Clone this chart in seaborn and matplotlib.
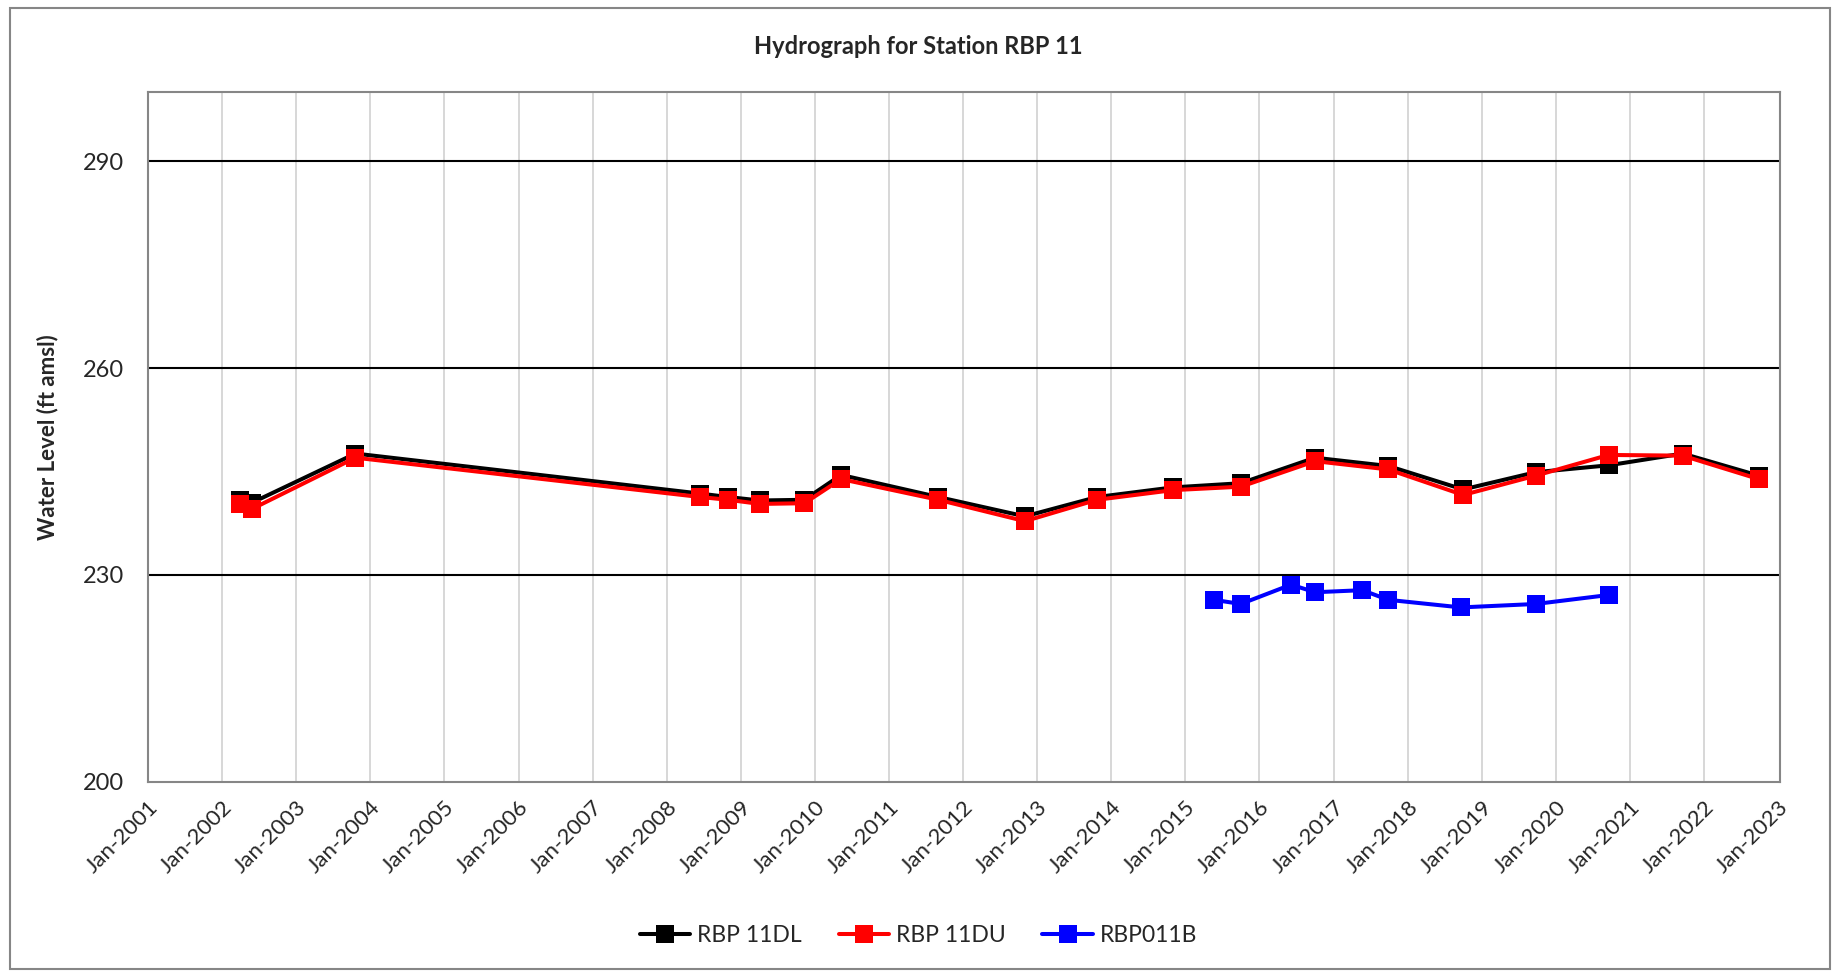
import pandas as pd
import numpy as np
import matplotlib
matplotlib.use("Agg")
import matplotlib.pyplot as plt
import matplotlib.dates as mdates
from matplotlib.patches import Rectangle
import seaborn as sns

dl_dates = ['2002-04-01', '2002-05-30', '2003-10-20', '2008-06-15', '2008-10-30',
            '2009-04-05', '2009-11-10', '2010-05-10', '2011-09-01', '2012-11-01',
            '2013-10-22', '2014-11-01', '2015-10-01', '2016-10-01', '2017-09-27',
            '2018-10-01', '2019-09-24', '2020-09-17', '2021-09-17', '2022-09-27']
dl_levels = [240.8, 240.5, 247.6, 241.8, 241.3, 240.8, 240.9, 244.5, 241.3, 238.5,
             241.3, 242.7, 243.3, 247.0, 245.8, 242.4, 244.9, 245.9, 247.6, 244.4]

du_dates = dl_dates
du_levels = [240.3, 239.6, 247.0, 241.3, 240.9, 240.3, 240.4, 243.9, 240.9, 237.8,
             240.9, 242.3, 242.8, 246.5, 245.3, 241.6, 244.4, 247.4, 247.3, 243.9]

b_dates = ['2015-05-22', '2015-10-01', '2016-06-05', '2016-10-01', '2017-05-22',
           '2017-09-27', '2018-09-20', '2019-09-24', '2020-09-17']
b_levels = [226.4, 225.8, 228.6, 227.5, 227.8, 226.4, 225.3, 225.8, 227.1]

series_names = ['RBP 11DL', 'RBP 11DU', 'RBP011B']
colors = ['#000000', '#ff0000', '#0000ff']

df = pd.concat([
    pd.DataFrame({'date': pd.to_datetime(dl_dates), 'level': dl_levels, 'series': series_names[0]}),
    pd.DataFrame({'date': pd.to_datetime(du_dates), 'level': du_levels, 'series': series_names[1]}),
    pd.DataFrame({'date': pd.to_datetime(b_dates), 'level': b_levels, 'series': series_names[2]}),
])

sns.set_style("white")
plt.rcParams['font.family'] = ['Lato', 'DejaVu Sans']

fig = plt.figure(figsize=(18.37, 9.72), dpi=100)
ax = fig.add_axes([0.0806, 0.1955, 0.8884, 0.7098])

sns.lineplot(data=df, x='date', y='level', hue='series', hue_order=series_names,
             palette=colors, marker='s', markersize=13, markeredgewidth=0,
             linewidth=2.9, sort=False, ax=ax, legend=True)

ax.set_ylim(200, 300)
ax.set_yticks([200, 230, 260, 290])
ax.set_xlim(pd.Timestamp('2001-01-01'), pd.Timestamp('2023-01-10'))
ax.xaxis.set_major_locator(mdates.YearLocator())
ax.xaxis.set_major_formatter(mdates.DateFormatter('%b-%Y'))

ax.grid(False)
for v in [230, 260, 290]:
    ax.axhline(v, color='black', lw=1.5, zorder=1)
for yr in range(2002, 2023):
    ax.axvline(pd.Timestamp(f'{yr}-01-01'), color='#d4d4d4', lw=1.3, zorder=0)

for s in ax.spines.values():
    s.set_color('#868686')
    s.set_linewidth(1.5)

ax.tick_params(axis='x', direction='out', length=7, color='#868686', width=1.3,
               labelsize=16, pad=4)
ax.tick_params(axis='y', direction='out', length=7, color='#868686', width=1.3,
               labelsize=17, pad=10)
plt.setp(ax.get_xticklabels(), rotation=45, ha='right', rotation_mode='anchor')

ax.set_xlabel('')
ax.set_ylabel('Water Level (ft amsl)', fontsize=16, fontweight='bold', labelpad=18)

fig.text(0.5, 0.952, 'Hydrograph for Station RBP 11', ha='center', va='center',
         fontsize=17, fontweight='bold')

handles, labels = ax.get_legend_handles_labels()
ax.legend(handles, labels, loc='center', bbox_to_anchor=(0.5, 0.038),
          bbox_transform=fig.transFigure, ncol=3, frameon=False, fontsize=16.5,
          handlelength=2.2, columnspacing=1.6, handletextpad=0.3)

fig.patches.append(Rectangle((0.0053, 0.003), 0.991, 0.989, transform=fig.transFigure,
                             fill=False, edgecolor='#868686', lw=1.5))

fig.savefig('out.png', dpi=100, facecolor='white')
